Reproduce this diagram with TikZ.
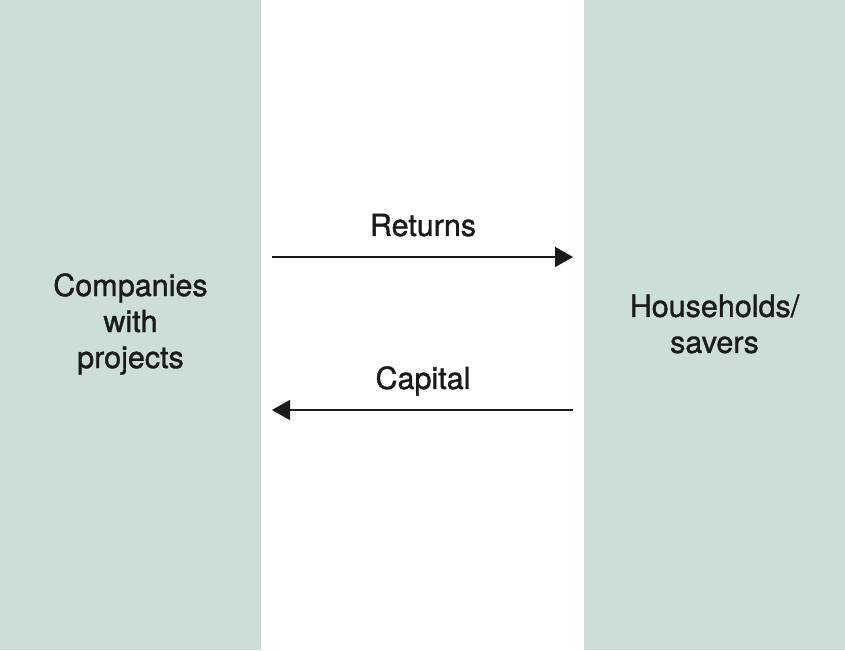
\documentclass[tikz,border=0pt]{standalone}
\usepackage{fontspec}
\setmainfont{TeX Gyre Heros}
\newfontfamily\labfont{TeX Gyre Heros}[FakeBold=1.2]
\usetikzlibrary{arrows.meta}
\definecolor{panel}{RGB}{204,222,215}
\definecolor{ink}{RGB}{26,26,26}
\tikzset{
  panelbox/.style={fill=panel, draw=none, minimum width=#1, minimum height=650pt, inner sep=0pt, outer sep=0pt},
  lbl/.style={text=ink, font=\labfont\fontsize{30.5}{36}\selectfont, align=center, inner sep=0pt},
  flow/.style={draw=ink, line width=1.6pt, -{Triangle[length=18pt,width=20pt]}}
}
\begin{document}
\begin{tikzpicture}[x=1pt,y=1pt]
\useasboundingbox (0,0) rectangle (845,650);
\node[panelbox=261pt, anchor=south west] (L) at (0,0) {};
\node[panelbox=261pt, anchor=south west] (R) at (584,0) {};
\node[lbl] (lt) at (130.5,326) {Companies\\with\\projects};
\node[lbl] (rt) at (714.5,326) {Households/\\savers};
\coordinate (r1) at (272,393);
\coordinate (r2) at (573,393);
\coordinate (c1) at (573,240);
\coordinate (c2) at (272,240);
\draw[flow] (r1) -- (r2);
\draw[flow] (c1) -- (c2);
\node[lbl, anchor=base] (ret) at (423,414) {Returns};
\node[lbl, anchor=base] (cap) at (423,261) {Capital};
\end{tikzpicture}
\end{document}
